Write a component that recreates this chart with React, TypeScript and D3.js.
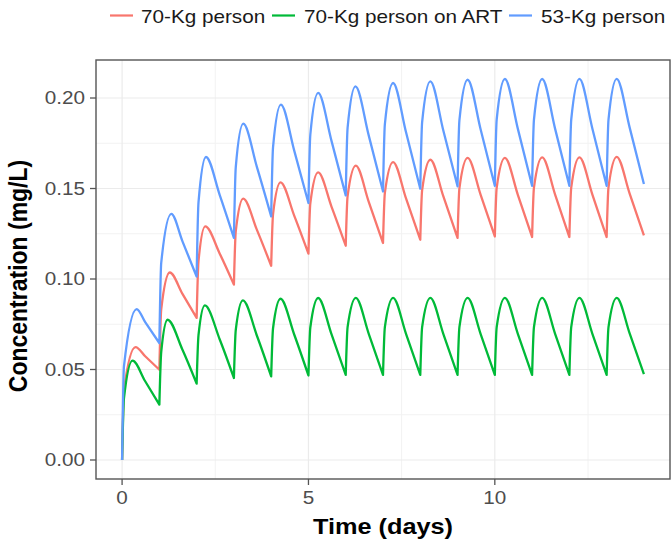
import React from 'react';
import * as d3 from 'd3';

// ---------- data ----------
const seriesNames = ['70-Kg person', '70-Kg person on ART', '53-Kg person'];
const seriesColors = ['#F8766D', '#00BA38', '#619CFF'];

const xTicks = [0, 5, 10];
const xTickLabels = ['0', '5', '10'];
const xMinorTicks = [2.5, 7.5, 12.5];
const yTicks = [0, 0.05, 0.1, 0.15, 0.2];
const yTickLabels = ['0.00', '0.05', '0.10', '0.15', '0.20'];
const yMinorTicks = [0.025, 0.075, 0.125, 0.175];

// dose days (dose given at start of each day)
const doseDays = [0, 1, 2, 3, 4, 5, 6, 7, 8, 9, 10, 11, 12, 13];

// 70-Kg person
const redTrough = [0, 0.0499, 0.0785, 0.0969, 0.1073, 0.114, 0.1184, 0.1199, 0.1217, 0.1227, 0.1235, 0.1232, 0.1232, 0.1232, 0.1241];
const redRise = [0.0387, 0.0832, 0.1099, 0.1264, 0.1359, 0.1418, 0.1458, 0.1476, 0.1491, 0.1501, 0.1504, 0.1505, 0.1505, 0.1507];
const redPeakT = [0.36, 1.28, 2.23, 3.25, 4.25, 5.26, 6.27, 7.27, 8.27, 9.27, 10.27, 11.27, 12.27, 13.27];
const redPeak = [0.0624, 0.1036, 0.1291, 0.1444, 0.1534, 0.1589, 0.1626, 0.1646, 0.1659, 0.1669, 0.1669, 0.1672, 0.1672, 0.1675];
const redMid = [0.0573, 0.0918, 0.114, 0.127, 0.1349, 0.1399, 0.1425, 0.1444, 0.1456, 0.1465, 0.1464, 0.1465, 0.1465, 0.1471];

// 70-Kg person on ART
const greenTrough = [0, 0.0306, 0.0422, 0.0453, 0.0462, 0.0467, 0.047, 0.047, 0.047, 0.047, 0.047, 0.047, 0.047, 0.047, 0.0475];
const greenRise = [0.034, 0.0597, 0.069, 0.0719, 0.0728, 0.0732, 0.0734, 0.0734, 0.0734, 0.0734, 0.0734, 0.0734, 0.0734, 0.0734];
const greenPeakT = [0.28, 1.22, 2.22, 3.24, 4.25, 5.26, 6.27, 7.27, 8.27, 9.27, 10.27, 11.27, 12.27, 13.27];
const greenPeak = [0.0549, 0.0775, 0.0854, 0.0882, 0.0891, 0.0895, 0.0896, 0.0896, 0.0896, 0.0896, 0.0896, 0.0896, 0.0896, 0.0896];
const greenMid = [0.0435, 0.0609, 0.0666, 0.0685, 0.0692, 0.0694, 0.0696, 0.0696, 0.0696, 0.0696, 0.0696, 0.0696, 0.0696, 0.0698];

// 53-Kg person
const blueTrough = [0, 0.0646, 0.1014, 0.1227, 0.1346, 0.142, 0.1462, 0.1484, 0.1499, 0.1512, 0.1515, 0.1515, 0.1515, 0.1515, 0.1525];
const blueRise = [0.0517, 0.1089, 0.1423, 0.1618, 0.1729, 0.1797, 0.1835, 0.1855, 0.1867, 0.1877, 0.1881, 0.1881, 0.1881, 0.1881];
const bluePeakT = [0.39, 1.32, 2.25, 3.25, 4.26, 5.26, 6.26, 7.27, 8.27, 9.27, 10.27, 11.27, 12.27, 13.27];
const bluePeak = [0.0834, 0.136, 0.1674, 0.1858, 0.1963, 0.2028, 0.2064, 0.2083, 0.2092, 0.2101, 0.2105, 0.2105, 0.2106, 0.2106];
const blueMid = [0.0762, 0.1208, 0.1464, 0.1617, 0.1708, 0.1762, 0.1791, 0.1809, 0.1819, 0.1826, 0.1828, 0.1828, 0.1829, 0.1835];

const riseOffset = 0.05;
const midOffset = 0.62;

// ---------- layout ----------
const W = 671;
const H = 550;
const panel = { left: 96, right: 670, top: 60, bottom: 479 };
const FONT = "'Liberation Sans', Arial, Helvetica, sans-serif";
const SX = 1.15; // the reference text is horizontally stretched

type Pt = [number, number];

function buildPath(
  trough: number[], rise: number[], peakT: number[], peak: number[], mid: number[],
  x: d3.ScaleLinear<number, number>, y: d3.ScaleLinear<number, number>
): string {
  const line = d3.line<Pt>().x(d => x(d[0])).y(d => y(d[1])).curve(d3.curveMonotoneX);
  let out = '';
  doseDays.forEach((d, i) => {
    const pts: Pt[] = [
      [d, trough[i]],
      [d + riseOffset, rise[i]],
      [peakT[i], peak[i]],
      [d + midOffset, mid[i]],
      [d + 1, trough[i + 1]],
    ];
    const seg = line(pts) || '';
    out += i === 0 ? seg : seg.replace(/^M[^A-Za-z]*/, '');
  });
  return out;
}

function Txt(props: {
  x: number; y: number; anchor?: string; size: number; weight?: string | number;
  fill?: string; rotate?: boolean; children: React.ReactNode;
}) {
  const { x, y, anchor = 'start', size, weight = 'normal', fill = '#000', rotate = false, children } = props;
  return (
    <text
      transform={`translate(${x},${y}) scale(${SX},1)${rotate ? ' rotate(-90)' : ''}`}
      textAnchor={anchor as any}
      fontSize={size}
      fontWeight={weight}
      fontFamily={FONT}
      fill={fill}
    >
      {children}
    </text>
  );
}

export default function App() {
  const x = d3.scaleLinear().domain([-0.7, 14.7]).range([panel.left, panel.right]);
  const y = d3.scaleLinear().domain([-0.0105, 0.221]).range([panel.bottom, panel.top]);

  const paths = [
    buildPath(redTrough, redRise, redPeakT, redPeak, redMid, x, y),
    buildPath(greenTrough, greenRise, greenPeakT, greenPeak, greenMid, x, y),
    buildPath(blueTrough, blueRise, bluePeakT, bluePeak, blueMid, x, y),
  ];

  const legendItems = [
    { lineX: 110, textX: 141 },
    { lineX: 272, textX: 304 },
    { lineX: 509, textX: 541 },
  ];

  return (
    <svg width={W} height={H} style={{ position: 'absolute', left: 0, top: 0, background: '#fff' }}>
      <rect x={0} y={0} width={W} height={H} fill="#fff" />
      {/* grid */}
      <g>
        {yMinorTicks.map(v => (
          <line key={'ym' + v} x1={panel.left} x2={panel.right} y1={y(v)} y2={y(v)} stroke="#f2f2f2" strokeWidth={1} />
        ))}
        {xMinorTicks.map(v => (
          <line key={'xm' + v} x1={x(v)} x2={x(v)} y1={panel.top} y2={panel.bottom} stroke="#f2f2f2" strokeWidth={1} />
        ))}
        {yTicks.map(v => (
          <line key={'yM' + v} x1={panel.left} x2={panel.right} y1={y(v)} y2={y(v)} stroke="#ebebeb" strokeWidth={1.2} />
        ))}
        {xTicks.map(v => (
          <line key={'xM' + v} x1={x(v)} x2={x(v)} y1={panel.top} y2={panel.bottom} stroke="#ebebeb" strokeWidth={1.2} />
        ))}
      </g>
      {/* data */}
      <g fill="none" strokeWidth={2.3} strokeLinejoin="round">
        {paths.map((p, i) => (
          <path key={i} d={p} stroke={seriesColors[i]} />
        ))}
      </g>
      {/* panel border */}
      <rect
        x={panel.left}
        y={panel.top}
        width={panel.right - panel.left}
        height={panel.bottom - panel.top}
        fill="none"
        stroke="#555"
        strokeWidth={1.4}
      />
      {/* y axis ticks */}
      {yTicks.map((v, i) => (
        <g key={'yt' + v}>
          <line x1={panel.left - 6} x2={panel.left} y1={y(v)} y2={y(v)} stroke="#555" strokeWidth={1.3} />
          <Txt x={85} y={y(v) + 6.3} anchor="end" size={18} fill="#4d4d4d">{yTickLabels[i]}</Txt>
        </g>
      ))}
      {/* x axis ticks */}
      {xTicks.map((v, i) => (
        <g key={'xt' + v}>
          <line x1={x(v)} x2={x(v)} y1={panel.bottom} y2={panel.bottom + 6} stroke="#555" strokeWidth={1.3} />
          <Txt x={x(v)} y={504} anchor="middle" size={18} fill="#4d4d4d">{xTickLabels[i]}</Txt>
        </g>
      ))}
      {/* axis titles */}
      <Txt x={(panel.left + panel.right) / 2} y={534} anchor="middle" size={22} weight="bold">Time (days)</Txt>
      <Txt x={26.5} y={276} anchor="middle" size={23} weight="bold" rotate>Concentration (mg/L)</Txt>
      {/* legend */}
      {legendItems.map((it, i) => (
        <g key={'lg' + i}>
          <line x1={it.lineX} x2={it.lineX + 23} y1={15.5} y2={15.5} stroke={seriesColors[i]} strokeWidth={2.2} />
          <Txt x={it.textX} y={23} size={18} fill="#1a1a1a">{seriesNames[i]}</Txt>
        </g>
      ))}
    </svg>
  );
}
